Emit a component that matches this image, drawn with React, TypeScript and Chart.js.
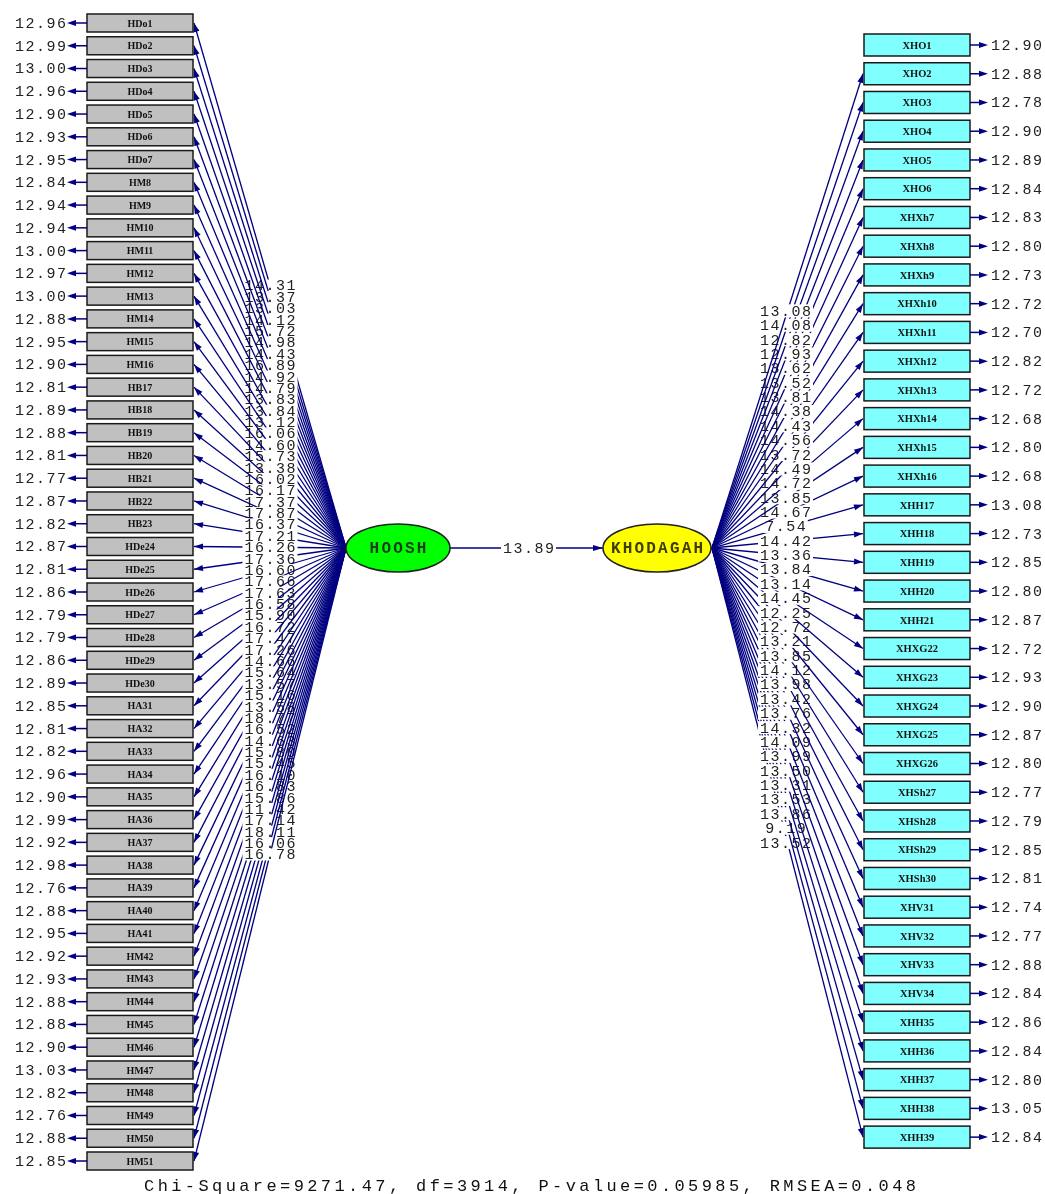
import React, { useEffect, useRef } from "react";
import { Chart, registerables } from "chart.js";
Chart.register(...registerables);

// ---------- DATA ----------
const leftNames = [
  "HDo1","HDo2","HDo3","HDo4","HDo5","HDo6","HDo7",
  "HM8","HM9","HM10","HM11","HM12","HM13","HM14","HM15","HM16",
  "HB17","HB18","HB19","HB20","HB21","HB22","HB23",
  "HDe24","HDe25","HDe26","HDe27","HDe28","HDe29","HDe30",
  "HA31","HA32","HA33","HA34","HA35","HA36","HA37","HA38","HA39","HA40","HA41",
  "HM42","HM43","HM44","HM45","HM46","HM47","HM48","HM49","HM50","HM51",
];
const leftErrors = [
  "12.96","12.99","13.00","12.96","12.90","12.93","12.95",
  "12.84","12.94","12.94","13.00","12.97","13.00","12.88","12.95","12.90",
  "12.81","12.89","12.88","12.81","12.77","12.87","12.82",
  "12.87","12.81","12.86","12.79","12.79","12.86","12.89",
  "12.85","12.81","12.82","12.96","12.90","12.99","12.92","12.98","12.76","12.88","12.95",
  "12.92","12.93","12.88","12.88","12.90","13.03","12.82","12.76","12.88","12.85",
];
const leftLoadings = [
  "14.31","13.37","13.03","14.12","15.72","14.98","14.43","16.89","14.92","14.79",
  "13.83","13.84","13.12","16.06","14.60","15.73","13.38","16.02","16.17","17.37",
  "17.87","16.37","17.21","16.26","17.36","16.60","17.66","17.63","16.58","15.90",
  "16.72","17.47","17.26","14.66","15.64","13.57","15.16","13.58","18.77","16.52",
  "14.63","15.80","15.45","16.10","16.83","15.86","11.42","17.14","18.11","16.06",
  "16.78",
];
const rightNames = [
  "XHO1","XHO2","XHO3","XHO4","XHO5","XHO6",
  "XHXh7","XHXh8","XHXh9","XHXh10","XHXh11","XHXh12","XHXh13","XHXh14","XHXh15","XHXh16",
  "XHH17","XHH18","XHH19","XHH20","XHH21",
  "XHXG22","XHXG23","XHXG24","XHXG25","XHXG26",
  "XHSh27","XHSh28","XHSh29","XHSh30",
  "XHV31","XHV32","XHV33","XHV34",
  "XHH35","XHH36","XHH37","XHH38","XHH39",
];
const rightErrors = [
  "12.90","12.88","12.78","12.90","12.89","12.84",
  "12.83","12.80","12.73","12.72","12.70","12.82","12.72","12.68","12.80","12.68",
  "13.08","12.73","12.85","12.80","12.87",
  "12.72","12.93","12.90","12.87","12.80",
  "12.77","12.79","12.85","12.81",
  "12.74","12.77","12.88","12.84",
  "12.86","12.84","12.80","13.05","12.84",
];
// loadings for XHO2 ... XHH39 (XHO1 is the fixed reference indicator)
const rightLoadings = [
  "13.08","14.08","12.82","12.93","13.62","13.52","13.81","14.38","14.43","14.56",
  "13.72","14.49","14.72","13.85","14.67","7.54","14.42","13.36","13.84","13.14",
  "14.45","12.25","12.72","13.21","13.85","14.12","13.98","13.42","13.76","14.32",
  "14.09","13.99","13.50","13.31","13.53","13.86","9.19","13.52",
];
const latentNames = ["HOOSH", "KHODAGAH"];
const structuralPath = ["13.89"];
const fitText = "Chi-Square=9271.47, df=3914, P-value=0.05985, RMSEA=0.048";

// ---------- LAYOUT ----------
const W = 1045;
const H = 1194;
const LAY = {
  lBoxX0: 87, lBoxX1: 193, lY0: 23, lDy: 22.76, lBoxH: 18,
  rBoxX0: 864, rBoxX1: 970, rY0: 45, rDy: 28.74, rBoxH: 22,
  eta1: { cx: 398, cy: 548, rx: 52, ry: 24 },
  eta2: { cx: 657, cy: 548, rx: 54, ry: 24 },
  fitY: 1186, fitX: 530,
};
const NAVY = "#000080";
const TXT = "#222222";

function setSpacing(ctx: any, s: number) {
  if ("letterSpacing" in ctx) ctx.letterSpacing = s + "px";
}

function arrowHead(ctx: any, x0: number, y0: number, x1: number, y1: number, len: number, half: number) {
  const a = Math.atan2(y1 - y0, x1 - x0);
  const bx = x1 - Math.cos(a) * len;
  const by = y1 - Math.sin(a) * len;
  ctx.beginPath();
  ctx.moveTo(x1, y1);
  ctx.lineTo(bx + Math.sin(a) * half, by - Math.cos(a) * half);
  ctx.lineTo(bx - Math.sin(a) * half, by + Math.cos(a) * half);
  ctx.closePath();
  ctx.fill();
}

function textW(ctx: any, t: string, sp: number) {
  return ctx.measureText(t).width - sp;
}

function labelWithBg(ctx: any, t: string, cx: number, cy: number, sp: number, bgH: number) {
  const w = textW(ctx, t, sp);
  ctx.fillStyle = "#ffffff";
  ctx.fillRect(cx - w / 2 - 2, cy - bgH / 2, w + 4, bgH);
  ctx.fillStyle = TXT;
  ctx.textAlign = "left";
  ctx.textBaseline = "middle";
  ctx.fillText(t, cx - w / 2, cy + 1);
}

const diagramPlugin = {
  id: "pathDiagram",
  afterDatasetsDraw(chart: any) {
    const ctx = chart.ctx;
    const xs = chart.scales.x;
    const ys = chart.scales.y;
    const X = (v: number) => xs.getPixelForValue(v);
    const Y = (v: number) => ys.getPixelForValue(v);
    ctx.save();

    const e1 = LAY.eta1, e2 = LAY.eta2;
    const lStart = { x: X(e1.cx - e1.rx), y: Y(e1.cy) };
    const rStart = { x: X(e2.cx + e2.rx + 1), y: Y(e2.cy) };
    const numFont = "15px 'Liberation Mono', 'Courier New', monospace";
    const numSp = 1.5;
    const LW = 1.3;

    // ---- left loadings (drawn top to bottom) ----
    ctx.font = numFont;
    setSpacing(ctx, numSp);
    leftLoadings.forEach((lab, i) => {
      const yv = LAY.lY0 + i * LAY.lDy;
      const ex = X(LAY.lBoxX1 + 1), ey = Y(yv);
      ctx.strokeStyle = NAVY;
      ctx.fillStyle = NAVY;
      ctx.lineWidth = LW;
      ctx.beginPath();
      ctx.moveTo(lStart.x, lStart.y);
      ctx.lineTo(ex, ey);
      ctx.stroke();
      arrowHead(ctx, lStart.x, lStart.y, ex, ey, 9, 3);
      labelWithBg(ctx, lab, (lStart.x + ex) / 2, (lStart.y + ey) / 2, numSp, 12);
    });

    // ---- right loadings (drawn bottom to top) ----
    for (let k = rightLoadings.length - 1; k >= 0; k--) {
      const i = k + 1;
      const yv = LAY.rY0 + i * LAY.rDy;
      const ex = X(LAY.rBoxX0 - 1), ey = Y(yv);
      ctx.strokeStyle = NAVY;
      ctx.fillStyle = NAVY;
      ctx.lineWidth = LW;
      ctx.beginPath();
      ctx.moveTo(rStart.x, rStart.y);
      ctx.lineTo(ex, ey);
      ctx.stroke();
      arrowHead(ctx, rStart.x, rStart.y, ex, ey, 9, 3);
      labelWithBg(ctx, rightLoadings[k], (rStart.x + ex) / 2 - 2, (rStart.y + ey) / 2, numSp, 13);
    }

    // ---- structural path ----
    const sx0 = X(e1.cx + e1.rx), sx1 = X(e2.cx - e2.rx), sy = Y(e1.cy);
    ctx.strokeStyle = NAVY;
    ctx.fillStyle = NAVY;
    ctx.lineWidth = LW;
    ctx.beginPath();
    ctx.moveTo(sx0, sy);
    ctx.lineTo(sx1, sy);
    ctx.stroke();
    arrowHead(ctx, sx0, sy, sx1, sy, 10, 3);
    labelWithBg(ctx, structuralPath[0], (sx0 + sx1) / 2 + 2, sy, numSp, 14);

    // ---- latent ellipses ----
    const latentFill = ["#00ff00", "#ffff00"];
    const latentText = ["#1c3d1c", "#3d3d00"];
    [e1, e2].forEach((e, i) => {
      ctx.beginPath();
      ctx.ellipse(X(e.cx), Y(e.cy), e.rx, e.ry, 0, 0, Math.PI * 2);
      ctx.fillStyle = latentFill[i];
      ctx.fill();
      ctx.strokeStyle = "#202020";
      ctx.lineWidth = 1.5;
      ctx.stroke();
      ctx.font = "bold 16px 'Liberation Mono', 'Courier New', monospace";
      setSpacing(ctx, 2.2);
      const w = textW(ctx, latentNames[i], 2.2);
      ctx.fillStyle = latentText[i];
      ctx.textAlign = "left";
      ctx.textBaseline = "middle";
      ctx.fillText(latentNames[i], X(e.cx) - w / 2, Y(e.cy) + 1);
    });

    // ---- left boxes + errors ----
    leftNames.forEach((name, i) => {
      const yc = Y(LAY.lY0 + i * LAY.lDy);
      const x0 = X(LAY.lBoxX0), x1 = X(LAY.lBoxX1);
      ctx.fillStyle = "#c0c0c0";
      ctx.fillRect(x0, yc - LAY.lBoxH / 2, x1 - x0, LAY.lBoxH);
      ctx.strokeStyle = "#1a1a1a";
      ctx.lineWidth = 1.5;
      ctx.strokeRect(x0, yc - LAY.lBoxH / 2, x1 - x0, LAY.lBoxH);
      ctx.font = "bold 10px 'Liberation Serif', 'Times New Roman', serif";
      setSpacing(ctx, 0);
      ctx.fillStyle = "#111111";
      ctx.textAlign = "center";
      ctx.textBaseline = "middle";
      ctx.fillText(name, (x0 + x1) / 2, yc + 1);
      // error arrow
      ctx.strokeStyle = NAVY;
      ctx.fillStyle = NAVY;
      ctx.lineWidth = 1.5;
      ctx.beginPath();
      ctx.moveTo(x0, yc);
      ctx.lineTo(X(72), yc);
      ctx.stroke();
      arrowHead(ctx, X(78), yc, X(67), yc, 9, 3);
      ctx.font = numFont;
      setSpacing(ctx, numSp);
      ctx.fillStyle = TXT;
      const w = textW(ctx, leftErrors[i], numSp);
      ctx.textAlign = "left";
      ctx.fillText(leftErrors[i], X(66) - w, yc + 1);
    });

    // ---- right boxes + errors ----
    rightNames.forEach((name, i) => {
      const yc = Y(LAY.rY0 + i * LAY.rDy);
      const x0 = X(LAY.rBoxX0), x1 = X(LAY.rBoxX1);
      ctx.fillStyle = "#80ffff";
      ctx.fillRect(x0, yc - LAY.rBoxH / 2, x1 - x0, LAY.rBoxH);
      ctx.strokeStyle = "#1a1a1a";
      ctx.lineWidth = 1.5;
      ctx.strokeRect(x0, yc - LAY.rBoxH / 2, x1 - x0, LAY.rBoxH);
      ctx.font = "bold 10.5px 'Liberation Serif', 'Times New Roman', serif";
      setSpacing(ctx, 0);
      ctx.fillStyle = "#111111";
      ctx.textAlign = "center";
      ctx.textBaseline = "middle";
      ctx.fillText(name, (x0 + x1) / 2, yc + 1);
      ctx.strokeStyle = NAVY;
      ctx.fillStyle = NAVY;
      ctx.lineWidth = 1.5;
      ctx.beginPath();
      ctx.moveTo(x1, yc);
      ctx.lineTo(X(982), yc);
      ctx.stroke();
      arrowHead(ctx, X(978), yc, X(988), yc, 9, 3);
      ctx.font = numFont;
      setSpacing(ctx, numSp);
      ctx.fillStyle = TXT;
      ctx.textAlign = "left";
      ctx.fillText(rightErrors[i], X(991), yc + 1);
    });

    // ---- fit statistics ----
    ctx.font = "17px 'Liberation Mono', 'Courier New', monospace";
    setSpacing(ctx, 3.4);
    const fw = textW(ctx, fitText, 3.4);
    ctx.fillStyle = "#111111";
    ctx.textAlign = "left";
    ctx.textBaseline = "middle";
    ctx.fillText(fitText, X(LAY.fitX) - fw / 2, Y(LAY.fitY));

    setSpacing(ctx, 0);
    ctx.restore();
  },
};

export default function App() {
  const ref = useRef<HTMLCanvasElement | null>(null);
  useEffect(() => {
    document.body.style.margin = "0";
    document.body.style.overflow = "hidden";
    const canvas = ref.current;
    if (!canvas) return;
    const chart = new Chart(canvas, {
      type: "scatter",
      data: { datasets: [{ data: [], pointRadius: 0 }] },
      options: {
        animation: false,
        responsive: false,
        devicePixelRatio: 1,
        layout: { padding: 0 },
        plugins: { legend: { display: false }, tooltip: { enabled: false } },
        scales: {
          x: { type: "linear", min: 0, max: W, display: false },
          y: { type: "linear", min: 0, max: H, reverse: true, display: false },
        },
      },
      plugins: [diagramPlugin],
    });
    return () => chart.destroy();
  }, []);
  return (
    <div style={{ width: W, height: H, background: "#ffffff" }}>
      <canvas ref={ref} width={W} height={H} style={{ display: "block", width: W, height: H }} />
    </div>
  );
}
